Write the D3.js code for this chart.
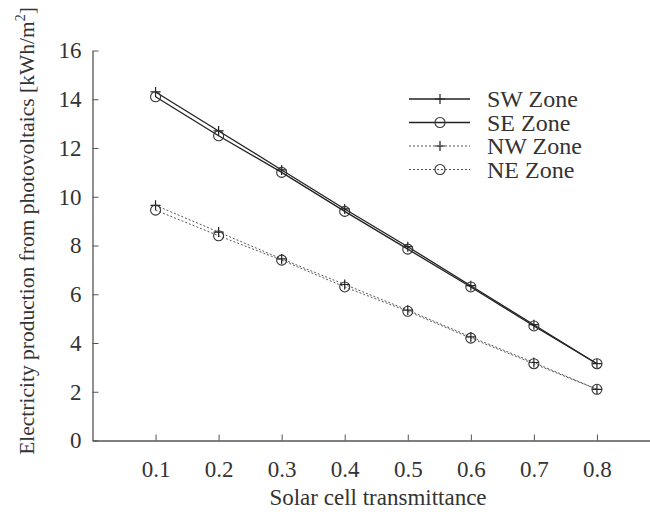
<!DOCTYPE html>
<html>
<head>
<meta charset="utf-8">
<script src="https://cdn.jsdelivr.net/npm/d3@7"></script>
<style>
  html, body { margin: 0; padding: 0; background: #fff; }
  svg { display: block; }
</style>
</head>
<body>
<svg id="chart" width="650" height="512"></svg>
<script>
// ---- data ----
const transmittance = [0.1, 0.2, 0.3, 0.4, 0.5, 0.6, 0.7, 0.8];
const swZone = [14.3, 12.7, 11.1, 9.5, 7.95, 6.35, 4.75, 3.15];
const seZone = [14.1, 12.5, 11.0, 9.4, 7.85, 6.3, 4.7, 3.15];
const nwZone = [9.65, 8.55, 7.45, 6.4, 5.35, 4.25, 3.2, 2.1];
const neZone = [9.45, 8.4, 7.4, 6.3, 5.3, 4.2, 3.15, 2.1];
const seriesNames = ["SW Zone", "SE Zone", "NW Zone", "NE Zone"];
const xTicks = [0.1, 0.2, 0.3, 0.4, 0.5, 0.6, 0.7, 0.8];
const yTicks = [0, 2, 4, 6, 8, 10, 12, 14, 16];

const series = [
  { name: seriesNames[0], values: swZone, marker: "plus",   dashed: false },
  { name: seriesNames[1], values: seZone, marker: "circle", dashed: false },
  { name: seriesNames[2], values: nwZone, marker: "plus",   dashed: true },
  { name: seriesNames[3], values: neZone, marker: "circle", dashed: true }
];

const FONT = "Liberation Serif";
const FS = "23px";
const svg = d3.select("#chart");
const x = d3.scaleLinear().domain([0, 0.9]).range([92.5, 660]);
const y = d3.scaleLinear().domain([0, 16]).range([440.5, 50.5]);

// axes
const xAxis = svg.append("g").attr("transform", `translate(0,${y(0)})`)
  .call(d3.axisBottom(x).tickValues(xTicks).tickFormat(d3.format(".1f"))
    .tickSizeInner(-6).tickSizeOuter(0).tickPadding(20));
const yAxis = svg.append("g").attr("transform", `translate(${x(0)},0)`)
  .call(d3.axisLeft(y).tickValues(yTicks).tickFormat(d3.format("d"))
    .tickSizeInner(-6).tickSizeOuter(0).tickPadding(11));
[xAxis, yAxis].forEach(a => {
  a.attr("font-family", null);
  a.selectAll("path.domain").attr("stroke", "#555").attr("stroke-width", 1.3);
  a.selectAll(".tick line").attr("stroke", "#555").attr("stroke-width", 1);
  a.selectAll(".tick text").style("font-family", FONT).style("font-size", FS).attr("fill", "#333");
});

// titles
svg.append("text").attr("x", 378).attr("y", 505).attr("text-anchor", "middle")
  .style("font-family", FONT).style("font-size", FS).attr("fill", "#333").text("Solar cell transmittance");
const yt = svg.append("text").attr("transform", "translate(34,231) rotate(-90)")
  .attr("text-anchor", "middle").style("font-family", FONT).style("font-size", "21.5px").attr("fill", "#333");
yt.append("tspan").text("Electricity production from photovoltaics [kWh/m");
yt.append("tspan").attr("dy", -9).style("font-size", "14px").text("2");
yt.append("tspan").attr("dy", 9).text("]");

// lines
const line = d3.line().x((d, i) => x(transmittance[i])).y(d => y(d));
function drawMarker(g, type, cx, cy) {
  if (type === "circle") {
    g.append("circle").attr("cx", cx).attr("cy", cy).attr("r", 5)
      .attr("fill", "none").attr("stroke", "#333").attr("stroke-width", 1.1);
  } else {
    g.append("path").attr("d", `M${cx - 5},${cy}H${cx + 5}M${cx},${cy - 5}V${cy + 5}`)
      .attr("stroke", "#222").attr("stroke-width", 1.2);
  }
}
series.forEach(s => {
  const g = svg.append("g");
  g.append("path").datum(s.values).attr("d", line).attr("fill", "none")
    .attr("stroke", s.dashed ? "#555" : "#222")
    .attr("stroke-width", s.dashed ? 1 : 1.3)
    .attr("stroke-dasharray", s.dashed ? "2,2" : null);
  s.values.forEach((v, i) => drawMarker(g, s.marker, x(transmittance[i]), y(v)));
});

// legend
const legY = [99, 122.5, 146, 169.5];
series.forEach((s, i) => {
  const g = svg.append("g");
  g.append("line").attr("x1", 409).attr("x2", 470).attr("y1", legY[i]).attr("y2", legY[i])
    .attr("stroke", s.dashed ? "#555" : "#222")
    .attr("stroke-width", s.dashed ? 1 : 1.3)
    .attr("stroke-dasharray", s.dashed ? "2,2" : null);
  drawMarker(g, s.marker, 440, legY[i]);
  g.append("text").attr("x", 487).attr("y", legY[i] + 8)
    .style("font-family", FONT).style("font-size", "24px").attr("fill", "#333").text(s.name);
});
</script>
</body>
</html>
